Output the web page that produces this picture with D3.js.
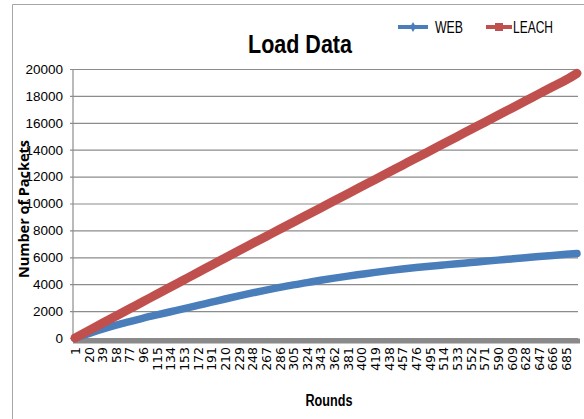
<!DOCTYPE html>
<html><head><meta charset="utf-8">
<script src="https://cdn.jsdelivr.net/npm/d3@7"></script>
<style>body{margin:0;background:#fff}svg{display:block}</style>
</head><body>
<svg id="c" width="584" height="419"></svg>
<script>
const rounds = [1,20,39,58,77,96,115,134,153,172,191,210,229,248,267,286,305,324,343,362,381,400,419,438,457,476,495,514,533,552,571,590,609,628,647,666,685,700];
const tickLabels = [1,20,39,58,77,96,115,134,153,172,191,210,229,248,267,286,305,324,343,362,381,400,419,438,457,476,495,514,533,552,571,590,609,628,647,666,685];
const webValues = [0,330,650,950,1220,1480,1720,1950,2180,2420,2660,2900,3130,3350,3560,3760,3950,4120,4290,4450,4600,4740,4880,5010,5130,5240,5340,5430,5520,5610,5700,5790,5880,5970,6060,6140,6220,6280];
const leachValues = [0,550,1090,1630,2170,2710,3250,3790,4330,4870,5410,5950,6490,7020,7550,8080,8610,9140,9670,10200,10730,11260,11790,12320,12850,13380,13910,14440,14970,15500,16030,16560,17090,17620,18150,18680,19200,19680];
const yTicks = [0,2000,4000,6000,8000,10000,12000,14000,16000,18000,20000];
const seriesNames = ["WEB","LEACH"];
const colors = ["#4a7ebb","#c0504d"];

(function(){
const svg = d3.select("#c");
const pL = 73, pR = 578, pT = 69, pB = 338;
const x = d3.scaleLinear().domain([1,700]).range([75,577]);
const y = d3.scaleLinear().domain([0,20000]).range([pB, pT]);
const narrow = "'Liberation Sans Narrow','Arial Narrow','Liberation Sans',sans-serif";

svg.append("path").attr("d","M12.5,419 L12.5,4.5 L584,4.5").attr("fill","none").attr("stroke","#a6a6a6").attr("stroke-width",1);

const ga = svg.append("g").attr("transform",`translate(${pL},0)`)
  .call(d3.axisLeft(y).tickValues(yTicks).tickSize(-(pR-pL)).tickSizeOuter(0).tickPadding(10).tickFormat(d3.format("d")));
ga.select(".domain").remove();
ga.selectAll(".tick line").attr("stroke","#8c8c8c").attr("stroke-width",1.2).attr("x1",-3);
ga.selectAll(".tick text").attr("font-family",narrow).attr("font-size",13.5).attr("fill","#000");
svg.append("line").attr("x1",pL).attr("x2",pL).attr("y1",pT).attr("y2",pB).attr("stroke","#8c8c8c").attr("stroke-width",1.2);

svg.append("line").attr("x1",pL).attr("x2",580).attr("y1",341).attr("y2",341).attr("stroke","#8a8a8a").attr("stroke-width",5);

const gx = svg.append("g").attr("transform","translate(0,344)")
  .call(d3.axisBottom(x).tickValues(tickLabels).tickSize(0).tickFormat(d3.format("d")));
gx.select(".domain").remove();
gx.selectAll(".tick text").attr("font-family","'DejaVu Sans',sans-serif").attr("font-size",12.5).attr("fill","#000")
  .attr("transform","rotate(-90)").attr("text-anchor","end").attr("dy","0.35em").attr("x",-3).attr("y",0);

const line = d3.line().x((d,i)=>x(rounds[i])).y(d=>y(d)).curve(d3.curveMonotoneX);
[webValues, leachValues].forEach((vals,k)=>{
  svg.append("path").datum(vals).attr("d",line).attr("fill","none")
    .attr("stroke",colors[k]).attr("stroke-width",k===1?9:7.5).attr("stroke-linecap","round").attr("stroke-linejoin","round");
});

svg.append("text").attr("x",300).attr("y",53).attr("text-anchor","middle")
  .attr("font-family",narrow).attr("font-weight","bold").attr("font-size",26)
  .attr("textLength",104).attr("lengthAdjust","spacingAndGlyphs").text("Load Data");

svg.append("text").attr("transform","translate(29,209) rotate(-90)").attr("text-anchor","middle")
  .attr("font-family","'Open Sans',sans-serif").attr("font-weight","bold").attr("font-size",14)
  .attr("textLength",138).attr("lengthAdjust","spacingAndGlyphs").text("Number of Packets");
svg.append("text").attr("x",329).attr("y",406).attr("text-anchor","middle")
  .attr("font-family",narrow).attr("font-weight","bold").attr("font-size",16)
  .attr("textLength",47).attr("lengthAdjust","spacingAndGlyphs").text("Rounds");

const lg = [{x1:398,x2:428,tx:435,w:28},{x1:486,x2:512,tx:513,w:40}];
seriesNames.forEach((n,k)=>{
  const L = lg[k];
  svg.append("line").attr("x1",L.x1).attr("x2",L.x2).attr("y1",27).attr("y2",27).attr("stroke",colors[k]).attr("stroke-width",4);
  if(k===0){
    svg.append("path").attr("d",d3.symbol(d3.symbolDiamond,30)()).attr("transform",`translate(${(L.x1+L.x2)/2},27)`).attr("fill",colors[k]);
  } else {
    svg.append("rect").attr("x",(L.x1+L.x2)/2-4).attr("y",23).attr("width",8).attr("height",8).attr("fill",colors[k]);
  }
  svg.append("text").attr("x",L.tx).attr("y",33).attr("font-family",narrow).attr("font-size",16)
    .attr("textLength",L.w).attr("lengthAdjust","spacingAndGlyphs").text(n);
});
})();
</script>
</body></html>
